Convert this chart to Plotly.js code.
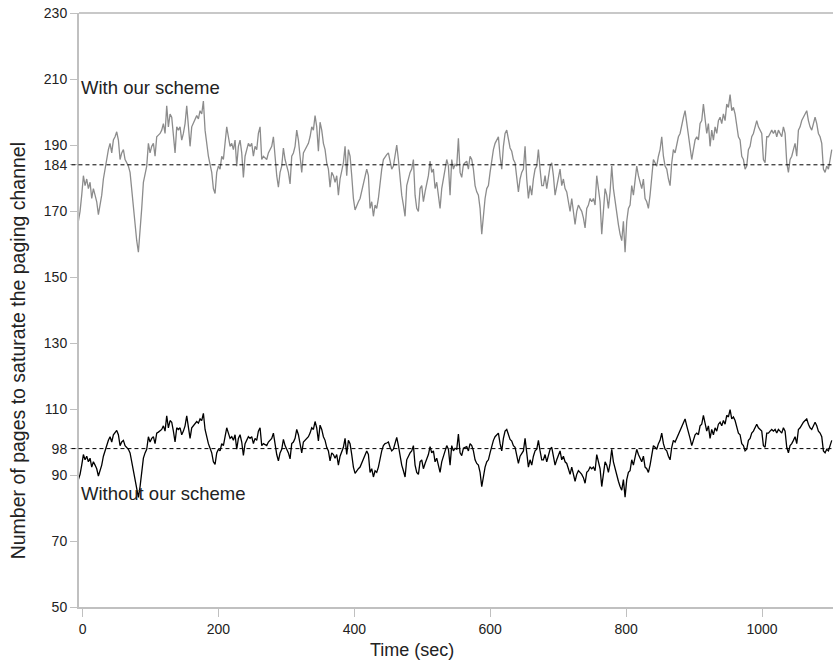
<!DOCTYPE html>
<html>
<head>
<meta charset="utf-8">
<script src="https://cdn.plot.ly/plotly-3.0.1.min.js"></script>
<style>html,body{margin:0;padding:0;background:#fff;}#chart{width:833px;height:665px;}</style>
</head>
<body>
<div id="chart"></div>
<script>
// Sampling of the readings (seconds)
const sampleStart = -6.1;
const sampleStep = 2.453;

// Number of pages to saturate the paging channel - with our scheme
const withScheme = [
166.9,169.9,174.8,180.7,177.7,179.7,176.8,178.7,173.8,176.8,
174.8,172.8,168.9,171.8,174.8,179.7,182.7,186.6,188.6,190.5,
187.6,191.5,192.5,194.0,191.5,185.6,187.6,188.6,185.6,184.6,
183.6,181.7,176.8,169.9,164.9,161.0,157.5,163.0,170.8,178.7,
181.7,183.6,190.5,187.6,189.6,190.5,186.6,192.5,193.0,193.5,
194.5,196.5,193.5,201.9,195.5,199.4,198.4,193.5,187.6,195.5,
194.5,195.5,191.5,193.5,196.5,201.9,194.5,189.6,195.5,196.5,
197.4,198.9,197.9,200.4,199.4,203.3,194.5,189.6,186.6,184.1,
181.7,176.8,175.3,181.7,183.6,182.7,186.6,185.6,191.5,195.5,
192.5,189.6,190.5,188.6,191.5,183.6,189.6,191.5,187.6,180.2,
186.6,188.6,190.5,189.6,190.5,186.6,189.6,188.6,193.5,
195.5,185.6,186.6,186.1,185.6,187.6,188.6,189.6,192.5,185.6,
180.7,177.2,181.7,183.6,189.1,185.6,183.6,181.7,178.2,186.6,
187.6,189.6,194.5,191.5,186.6,181.7,187.6,188.6,189.6,190.5,
192.5,195.5,194.5,198.9,195.5,188.1,196.9,194.5,190.5,188.6,
184.6,182.7,177.2,181.7,180.7,178.7,180.7,174.8,179.7,182.7,
184.6,189.6,180.7,188.6,186.6,180.7,173.8,170.3,171.8,172.8,
173.8,175.8,178.7,180.7,182.7,180.7,170.8,172.8,168.4,171.8,
170.8,173.8,179.2,182.7,185.6,186.6,187.1,187.6,184.6,182.7,
183.6,186.6,190.0,185.6,178.7,174.8,171.8,168.4,177.7,179.7,
181.7,182.7,185.6,174.8,170.8,169.9,176.8,177.7,172.8,175.8,
178.7,180.7,185.1,181.7,182.7,176.8,178.7,174.8,170.8,176.8,
179.7,181.7,185.6,183.6,
174.8,185.6,182.7,184.1,183.6,192.0,181.7,180.2,184.1,184.6,
185.1,182.7,186.6,185.6,182.7,177.7,175.8,174.8,170.8,163.0,
168.9,173.8,176.8,177.7,181.7,185.6,188.6,190.5,191.5,192.5,
186.6,182.7,189.6,193.5,194.5,191.5,189.1,188.1,185.6,184.6,
180.7,175.8,179.7,181.7,182.7,189.6,179.7,173.8,177.7,174.8,
179.7,182.7,183.6,188.6,182.7,177.7,177.7,180.7,176.8,179.7,
183.6,184.6,180.7,174.8,177.7,180.7,182.7,177.7,179.7,176.8,
175.8,172.8,169.9,173.8,168.9,165.9,169.9,171.8,170.8,169.9,
167.9,164.9,170.8,171.8,173.8,172.8,173.8,171.8,180.7,176.8,
172.8,163.0,168.9,176.8,174.8,170.8,175.8,183.6,176.8,172.8,
168.9,165.9,163.0,161.0,166.9,157.5,166.9,170.8,171.8,177.7,
174.8,178.7,183.6,180.7,
178.7,176.8,179.7,173.8,172.8,170.8,174.8,179.7,185.6,184.6,
183.6,186.6,188.6,192.5,186.6,183.6,182.7,179.7,177.7,184.6,
188.6,187.6,189.6,192.5,193.5,196.5,198.4,200.4,196.5,193.5,
189.6,185.6,188.6,191.5,192.5,191.5,196.5,197.4,202.4,197.4,
193.5,196.5,189.6,194.5,191.5,195.5,193.5,197.4,198.4,196.5,
199.4,197.4,202.4,201.4,205.3,200.4,201.4,199.4,195.5,192.5,
191.5,186.6,185.6,182.7,183.6,188.6,189.6,192.5,193.5,195.5,
197.4,195.5,194.5,193.5,185.6,184.6,192.5,192.5,193.5,194.5,
193.5,194.5,192.5,194.5,193.5,192.5,195.5,193.5,184.6,181.7,
185.6,186.6,188.6,190.5,186.6,194.5,195.5,197.4,198.4,199.4,
200.4,197.4,195.5,194.5,196.5,198.4,196.5,193.5,192.5,190.5,
182.7,181.7,183.6,182.7,185.6,188.6
];

// Without our scheme
const withoutScheme = [
88.6,90.2,93.0,96.2,94.6,95.7,94.0,95.1,92.4,94.0,
93.0,91.9,89.7,91.3,93.0,95.7,97.3,99.5,100.5,101.6,
100.0,102.2,102.7,103.5,102.2,98.9,100.0,100.5,98.9,98.4,
97.8,96.7,94.0,90.2,87.5,85.4,83.2,86.5,90.8,95.1,
96.7,97.8,101.6,100.0,101.1,101.6,99.5,102.7,103.0,103.3,
103.8,104.9,103.3,107.9,104.3,106.5,106.0,103.3,100.0,104.3,
103.8,104.3,102.2,103.3,104.9,107.9,103.8,101.1,104.3,104.9,
105.4,106.2,105.7,107.0,106.5,108.7,103.8,101.1,99.5,98.1,
96.7,94.0,93.2,96.7,97.8,97.3,99.5,98.9,102.2,104.3,
102.7,101.1,101.6,100.5,102.2,97.8,101.1,102.2,100.0,95.9,
99.5,100.5,101.6,101.1,101.6,99.5,101.1,100.5,103.3,
104.3,98.9,99.5,99.2,98.9,100.0,100.5,101.1,102.7,98.9,
96.2,94.3,96.7,97.8,100.8,98.9,97.8,96.7,94.9,99.5,
100.0,101.1,103.8,102.2,99.5,96.7,100.0,100.5,101.1,101.6,
102.7,104.3,103.8,106.2,104.3,100.3,105.1,103.8,101.6,100.5,
98.4,97.3,94.3,96.7,96.2,95.1,96.2,93.0,95.7,97.3,
98.4,101.1,96.2,100.5,99.5,96.2,92.4,90.5,91.3,91.9,
92.4,93.5,95.1,96.2,97.3,96.2,90.8,91.9,89.4,91.3,
90.8,92.4,95.4,97.3,98.9,99.5,99.7,100.0,98.4,97.3,
97.8,99.5,101.4,98.9,95.1,93.0,91.3,89.4,94.6,95.7,
96.7,97.3,98.9,93.0,90.8,90.2,94.0,94.6,91.9,93.5,
95.1,96.2,98.6,96.7,97.3,94.0,95.1,93.0,90.8,94.0,
95.7,96.7,98.9,97.8,
93.0,98.9,97.3,98.1,97.8,102.4,96.7,95.9,98.1,98.4,
98.6,97.3,99.5,98.9,97.3,94.6,93.5,93.0,90.8,86.5,
89.7,92.4,94.0,94.6,96.7,98.9,100.5,101.6,102.2,102.7,
99.5,97.3,101.1,103.3,103.8,102.2,100.8,100.3,98.9,98.4,
96.2,93.5,95.7,96.7,97.3,101.1,95.7,92.4,94.6,93.0,
95.7,97.3,97.8,100.5,97.3,94.6,94.6,96.2,94.0,95.7,
97.8,98.4,96.2,93.0,94.6,96.2,97.3,94.6,95.7,94.0,
93.5,91.9,90.2,92.4,89.7,88.1,90.2,91.3,90.8,90.2,
89.2,87.5,90.8,91.3,92.4,91.9,92.4,91.3,96.2,94.0,
91.9,86.5,89.7,94.0,93.0,90.8,93.5,97.8,94.0,91.9,
89.7,88.1,86.5,85.4,88.6,83.3,88.6,90.8,91.3,94.6,
93.0,95.1,97.8,96.2,
95.1,94.0,95.7,92.4,91.9,90.8,93.0,95.7,98.9,98.4,
97.8,99.5,100.5,102.7,99.5,97.8,97.3,95.7,94.6,98.4,
100.5,100.0,101.1,102.7,103.3,104.9,106.0,107.0,104.9,103.3,
101.1,98.9,100.5,102.2,102.7,102.2,104.9,105.4,108.1,105.4,
103.3,104.9,101.1,103.8,102.2,104.3,103.3,105.4,106.0,104.9,
106.5,105.4,108.1,107.6,109.8,107.0,107.6,106.5,104.3,102.7,
102.2,99.5,98.9,97.3,97.8,100.5,101.1,102.7,103.3,104.3,
105.4,104.3,103.8,103.3,98.9,98.4,102.7,102.7,103.3,103.8,
103.3,103.8,102.7,103.8,103.3,102.7,104.3,103.3,98.4,96.7,
98.9,99.5,100.5,101.6,99.5,103.8,104.3,105.4,106.0,106.5,
107.0,105.4,104.3,103.8,104.9,106.0,104.9,103.3,102.7,101.6,
97.3,96.7,97.8,97.3,98.9,100.5
];

// Reference levels (dashed)
const referenceLevels = [184, 98];

// Axis ticks
const xTicks = [0, 200, 400, 600, 800, 1000];
const yTicks = [50, 70, 90, 98, 110, 130, 150, 170, 184, 190, 210, 230];

const seriesLabels = ['With our scheme', 'Without our scheme'];
const labelLevels = [207.3, 84.5];

const FONT = 'Liberation Sans, Arial, sans-serif';

const traces = [
  {
    type: 'scatter', mode: 'lines', name: seriesLabels[0],
    x0: sampleStart, dx: sampleStep, y: withScheme,
    line: {color: '#8c8c8c', width: 1.3}, hoverinfo: 'skip'
  },
  {
    type: 'scatter', mode: 'lines', name: seriesLabels[1],
    x0: sampleStart, dx: sampleStep, y: withoutScheme,
    line: {color: '#000000', width: 1.3}, hoverinfo: 'skip'
  }
];

const shapes = referenceLevels.map(v => ({
  type: 'line', xref: 'paper', yref: 'y', x0: -0.01, x1: 1, y0: v, y1: v,
  line: {color: '#000', width: 1, dash: '4px,3px'}, layer: 'above'
}));

const annotations = [
  {text: seriesLabels[0], xref: 'paper', yref: 'y', x: 0.0, y: labelLevels[0],
   xanchor: 'left', yanchor: 'middle', showarrow: false,
   font: {family: FONT, size: 18.5, color: '#222'}},
  {text: seriesLabels[1], xref: 'paper', yref: 'y', x: 0.0, y: labelLevels[1],
   xanchor: 'left', yanchor: 'middle', showarrow: false,
   font: {family: FONT, size: 18.5, color: '#222'}},
  {text: 'Time (sec)', xref: 'paper', yref: 'paper', x: 0.442, y: -0.072,
   xanchor: 'center', yanchor: 'middle', showarrow: false,
   font: {family: FONT, size: 18, color: '#222'}},
  {text: 'Number of pages to saturate the paging channel', xref: 'paper', yref: 'paper',
   x: -0.081, y: 0.432, xanchor: 'center', yanchor: 'middle', textangle: -90, showarrow: false,
   font: {family: FONT, size: 19.5, color: '#222'}}
];

const layout = {
  width: 833, height: 665,
  margin: {l: 79, r: 0, t: 13, b: 58, pad: 0},
  paper_bgcolor: '#fff', plot_bgcolor: '#fff',
  showlegend: false,
  font: {family: FONT, size: 14, color: '#222'},
  xaxis: {
    range: [-5.2, 1104.5], tickvals: xTicks, ticktext: xTicks.map(String),
    showgrid: false, zeroline: false, showline: true, linecolor: '#c0c0c0', linewidth: 2,
    ticks: 'outside', ticklen: 8, tickcolor: '#c0c0c0', tickwidth: 1,
    tickfont: {family: FONT, size: 14, color: '#222'}, mirror: false
  },
  yaxis: {
    range: [50, 230], tickvals: yTicks, ticktext: yTicks.map(String),
    showgrid: false, zeroline: false, showline: true, linecolor: '#c0c0c0', linewidth: 2,
    ticks: 'outside', ticklen: 7, tickcolor: '#c0c0c0', tickwidth: 1,
    tickfont: {family: FONT, size: 14, color: '#222'}
  },
  shapes: shapes.concat([
    {type: 'line', xref: 'paper', yref: 'paper', x0: 0, x1: 1, y0: 1, y1: 1,
     line: {color: '#c8c8c8', width: 2}}
  ]),
  annotations: annotations
};

Plotly.newPlot('chart', traces, layout, {staticPlot: true, displayModeBar: false});
</script>
</body>
</html>
